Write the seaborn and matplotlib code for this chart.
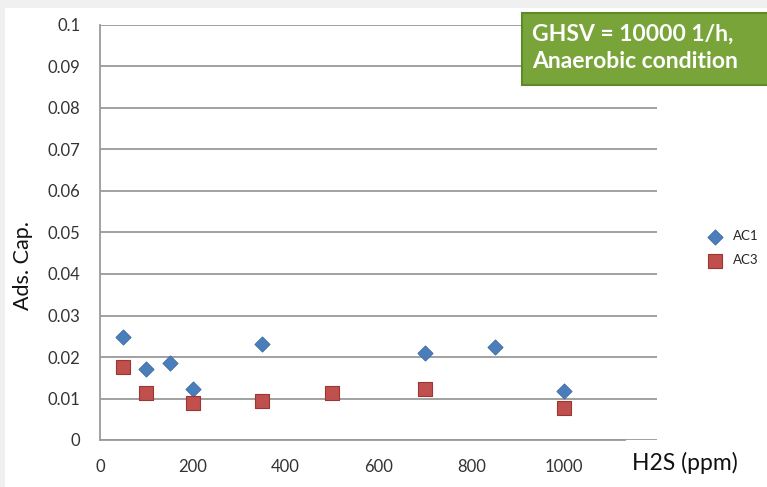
import matplotlib
matplotlib.use("Agg")
import matplotlib.pyplot as plt
import seaborn as sns
import pandas as pd
from matplotlib.patches import Rectangle

# Data
ac1_x = [50, 100, 150, 200, 350, 700, 850, 1000]
ac1_y = [0.0247, 0.0171, 0.0185, 0.0122, 0.0231, 0.0210, 0.0223, 0.0119]
ac3_x = [50, 100, 200, 350, 500, 700, 1000]
ac3_y = [0.0175, 0.0114, 0.0088, 0.0095, 0.0113, 0.0122, 0.0078]
x_ticks = [0, 200, 400, 600, 800, 1000]
y_ticks = [0, 0.01, 0.02, 0.03, 0.04, 0.05, 0.06, 0.07, 0.08, 0.09, 0.1]
y_tick_labels = ["0", "0.01", "0.02", "0.03", "0.04", "0.05", "0.06", "0.07", "0.08", "0.09", "0.1"]

df1 = pd.DataFrame({"H2S": ac1_x, "cap": ac1_y, "Sample": "AC1"})
df3 = pd.DataFrame({"H2S": ac3_x, "cap": ac3_y, "Sample": "AC3"})

sns.set_style("white")
plt.rcParams["font.family"] = ["Lato", "DejaVu Sans"]

fig = plt.figure(figsize=(7.67, 4.87), dpi=100)
fig.patch.set_facecolor("#f0f0f0")
bg = Rectangle((5 / 767, 0), 1, 1 - 8 / 487, transform=fig.transFigure,
               facecolor="white", edgecolor="none", zorder=-10)
fig.patches.append(bg)

ax = fig.add_axes([100 / 767, 47 / 487, 557 / 767, 415 / 487])
ax.set_facecolor("none")

sns.scatterplot(data=df1, x="H2S", y="cap", marker="D", s=60, color="#4a7ebb",
                edgecolor="#3c6aa3", linewidth=0.6, ax=ax, label="AC1", zorder=3)
sns.scatterplot(data=df3, x="H2S", y="cap", marker="s", s=100, color="#c0504d",
                edgecolor="#9b3633", linewidth=0.8, ax=ax, label="AC3", zorder=3)

ax.set_xlim(0, 1200)
ax.set_ylim(0, 0.1)
ax.set_xticks(x_ticks)
ax.set_xticklabels([str(t) for t in x_ticks])
ax.set_yticks(y_ticks)
ax.set_yticklabels(y_tick_labels)
ax.yaxis.grid(True, color="#9a9a9a", linewidth=1.3)
ax.xaxis.grid(False)
for s in ["top", "right"]:
    ax.spines[s].set_visible(False)
ax.spines["left"].set_color("#9a9a9a")
ax.spines["bottom"].set_color("#9a9a9a")
ax.spines["left"].set_linewidth(1.3)
ax.spines["bottom"].set_linewidth(1.3)
ax.spines["bottom"].set_bounds(0, 1130)
ax.tick_params(axis="both", direction="out", length=4, width=1.2, color="#9a9a9a",
               labelsize=12, labelcolor="#333333")
ax.tick_params(axis="y", pad=10)
ax.tick_params(axis="x", pad=10)
ax.set_xlabel("")
ax.set_ylabel("Ads. Cap.", fontsize=15.5, color="#111111")
ax.yaxis.set_label_coords(-0.12, 0.42)

fig.text(632 / 767, 1 - 463 / 487, "H2S (ppm)", fontsize=16.5, color="#111111",
         ha="left", va="center")

leg = ax.legend(loc="upper left", bbox_to_anchor=(697 / 767, 1 - 225 / 487),
                bbox_transform=fig.transFigure, frameon=False, fontsize=9.5,
                handletextpad=0.3, labelspacing=0.9, borderaxespad=0)

# Green annotation box
fig.patches.append(Rectangle((522 / 767, 1 - 85 / 487), 250 / 767, 72 / 487,
                             transform=fig.transFigure, facecolor="#78a43a",
                             edgecolor="#5e8a2a", linewidth=1.5, zorder=5))
fig.text(532 / 767, 1 - 48 / 487, "GHSV = 10000 1/h,\nAnaerobic condition",
         fontsize=16.5, fontweight="bold", color="white", ha="left", va="center",
         linespacing=1.35, zorder=6)

fig.savefig("out.png", dpi=100, facecolor=fig.get_facecolor())
